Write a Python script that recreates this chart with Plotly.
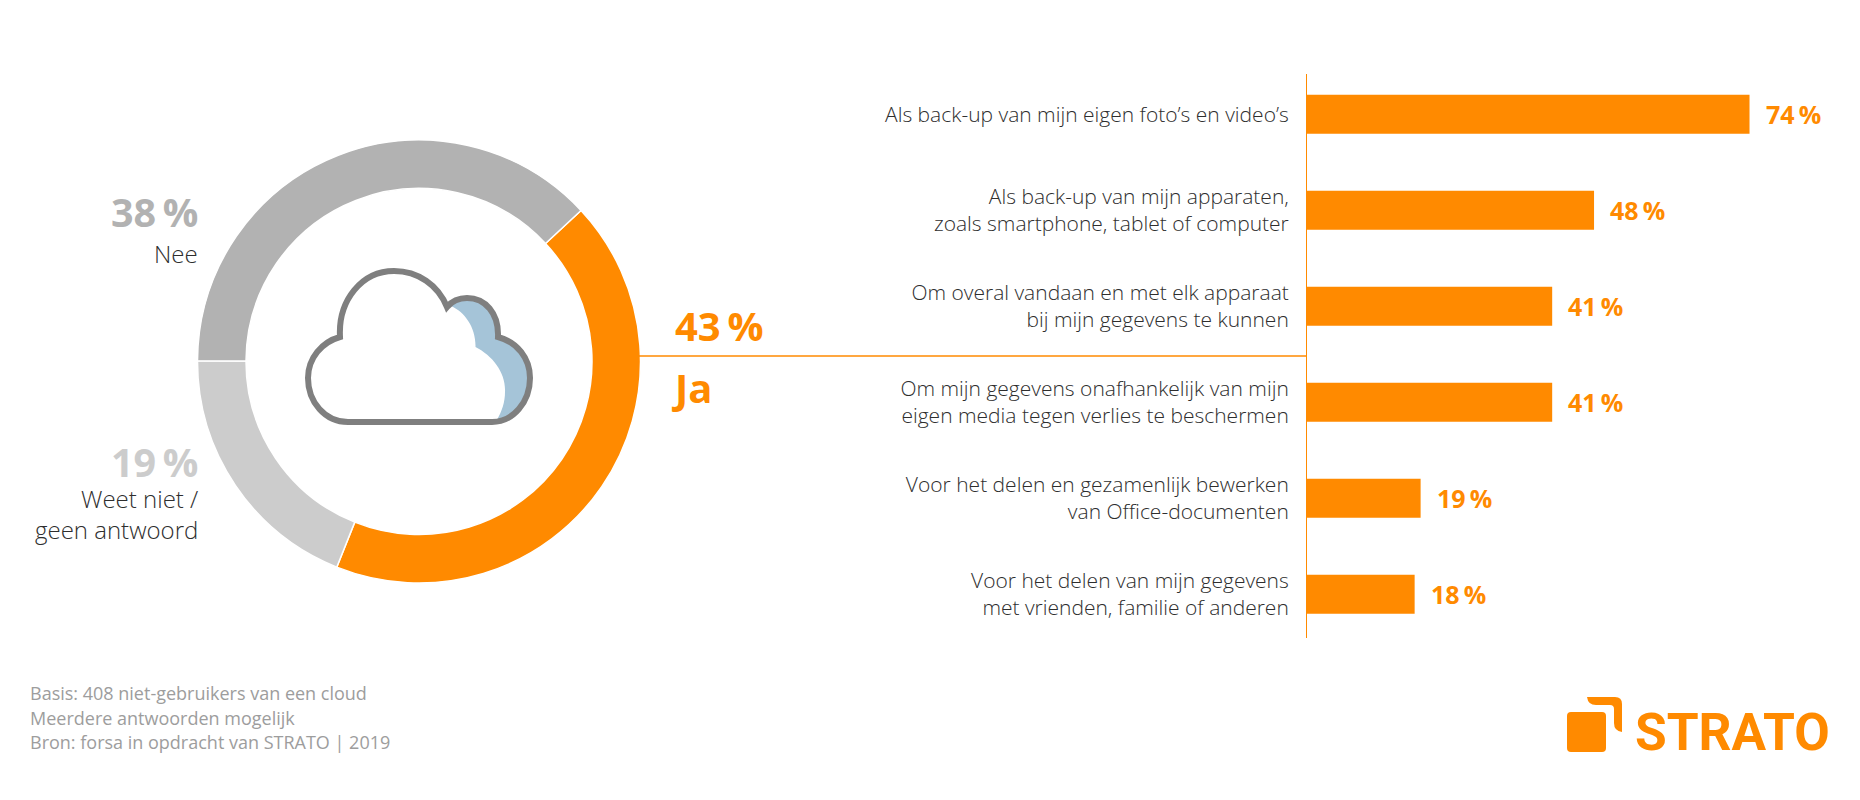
import plotly.graph_objects as go

# region Data
pie_labels = ["Ja", "Weet niet /<br>geen antwoord", "Nee"]
pie_values = [43, 19, 38]

bar_labels = [
    "Als back-up van mijn eigen foto’s en video’s",
    "Als back-up van mijn apparaten,<br>zoals smartphone, tablet of computer",
    "Om overal vandaan en met elk apparaat<br>bij mijn gegevens te kunnen",
    "Om mijn gegevens onafhankelijk van mijn<br>eigen media tegen verlies te beschermen",
    "Voor het delen en gezamenlijk bewerken<br>van Office-documenten",
    "Voor het delen van mijn gegevens<br>met vrienden, familie of anderen",
]
bar_values = [74, 48, 41, 41, 19, 18]

footer_lines = [
    "Basis: 408 niet-gebruikers van een cloud",
    "Meerdere antwoorden mogelijk",
    "Bron: forsa in opdracht van STRATO | 2019",
]
# endregion

ORANGE = "#ff8a00"
GREY_DARK = "#b2b2b2"
GREY_LIGHT = "#cccccc"
TEXT = "#2e2e2e"
FONT = "Open Sans"

# the page body keeps its 8px margin, so the figure is 16px smaller than the window
# and every position below is given in window pixels
W, H = 1860, 800
PAGE = 8
FIG_W, FIG_H = W - 2 * PAGE, H - 2 * PAGE


def px_x(x):
    return (x - PAGE) / FIG_W


def px_y(y):
    return 1 - (y - PAGE) / FIG_H


fig = go.Figure()

# Donut
fig.add_trace(
    go.Pie(
        labels=pie_labels,
        values=pie_values,
        hole=0.781,
        rotation=47,
        sort=False,
        direction="clockwise",
        textinfo="none",
        marker=dict(colors=[ORANGE, GREY_LIGHT, GREY_DARK], line=dict(color="white", width=1.5)),
        domain=dict(x=[px_x(197.5), px_x(640.5)], y=[px_y(583), px_y(140)]),
    )
)

# Bars
fig.add_trace(
    go.Bar(
        x=bar_values,
        y=bar_labels,
        orientation="h",
        marker=dict(color=ORANGE, line=dict(width=0)),
    )
)

fig.update_layout(
    width=FIG_W,
    height=FIG_H,
    margin=dict(l=0, r=0, t=0, b=0),
    paper_bgcolor="white",
    plot_bgcolor="rgba(0,0,0,0)",
    showlegend=False,
    bargap=0.594,
    font=dict(family=FONT, color=TEXT),
    xaxis=dict(
        domain=[px_x(1307), 1],
        range=[0, (W - PAGE - 1307) / 5.98],
        visible=False,
    ),
    yaxis=dict(
        domain=[px_y(638), px_y(73.5)],
        range=[5.456, -0.424],
        type="category",
        categoryorder="array",
        categoryarray=bar_labels,
        showline=True,
        linecolor=ORANGE,
        linewidth=1,
        showgrid=False,
        ticks="",
        ticklabelstandoff=13,
        tickfont=dict(family=FONT, size=21, color=TEXT, weight=300),
    ),
    # pixel canvas for the cloud, logo and free labels
    xaxis2=dict(domain=[0, 1], range=[PAGE, W - PAGE], visible=False, anchor="y2"),
    yaxis2=dict(domain=[0, 1], range=[H - PAGE, PAGE], visible=False, anchor="x2"),
)

# Bar value labels
for label, value in zip(bar_labels, bar_values):
    fig.add_annotation(
        x=value, y=label, xref="x", yref="y",
        text=f"{value}\u2009%", showarrow=False,
        xanchor="left", xshift=14,
        font=dict(family=FONT, size=25, color=ORANGE, weight=700),
    )


def canvas_text(x, y, text, size, color, weight=400, anchor="left", align="left", family=FONT):
    fig.add_annotation(
        x=x, y=y, xref="x2", yref="y2", text=text, showarrow=False,
        xanchor=anchor, yanchor="middle", align=align,
        borderpad=0, borderwidth=0,
        font=dict(family=family, size=size, color=color, weight=weight),
    )


# Donut labels
canvas_text(198, 212, f"{pie_values[2]}\u2009%", 39.5, GREY_DARK, 700, "right", "right")
canvas_text(198, 253, pie_labels[2], 24, TEXT, 300, "right", "right")
canvas_text(198, 462, f"{pie_values[1]}\u2009%", 39.5, GREY_LIGHT, 700, "right", "right")
canvas_text(198, 514, pie_labels[1], 24, TEXT, 300, "right", "right")
canvas_text(674.5, 325, f"{pie_values[0]}\u2009%", 40, ORANGE, 700)
canvas_text(672, 387, pie_labels[0], 40, ORANGE, 700)

# Footer
for line, y in zip(footer_lines, [693, 717.5, 742]):
    canvas_text(30, y, line, 18, "#9d9d9d")

# Logo wordmark
canvas_text(1635, 732, "STRATO", 51.5, ORANGE, 700, family="Roboto")

# Connector from donut to the bar baseline
fig.add_shape(type="line", xref="x2", yref="y2", x0=639, x1=1306, y0=356, y1=356,
              line=dict(color=ORANGE, width=1.5))

# Cloud icon: blue shade, then the outline on top
fig.add_shape(
    type="path", xref="x2", yref="y2", layer="above", line=dict(width=0), fillcolor="#a5c4d8",
    path="M 451 306 C 465 312 476 328 475.5 347 C 493 356 506 373 505 392 C 505 402 502 411 497 420 "
         "L 492 422 C 513 422 530 402 530 378 C 530 358 517 342 498 337 "
         "C 499 313 485 298 467 298 C 459 298 452 301 451 306 Z",
)
fig.add_shape(
    type="path", xref="x2", yref="y2", layer="above", line=dict(color="#7f7f7f", width=6),
    path="M 348 422 C 325 422 308 402 308 378 C 308 358 322 342 340 337 "
         "C 338 300 362 271 394 271 C 418 271 438 285 447 307 "
         "C 452 301 459 298 467 298 C 485 298 499 313 498 337 "
         "C 517 342 530 358 530 378 C 530 402 513 422 492 422 Z",
)

# Logo square and corner
fig.add_shape(
    type="path", xref="x2", yref="y2", line=dict(width=0), fillcolor=ORANGE,
    path="M 1571 712 L 1602 712 Q 1606 712 1606 716 L 1606 748 Q 1606 752 1602 752 "
         "L 1571 752 Q 1567 752 1567 748 L 1567 716 Q 1567 712 1571 712 Z",
)
fig.add_shape(
    type="path", xref="x2", yref="y2", line=dict(width=0), fillcolor=ORANGE,
    path="M 1587 697 L 1615 697 Q 1622 697 1622 704 L 1622 732 "
         "Q 1614 731 1614 723 L 1614 709 Q 1614 705 1610 705 L 1596 705 Q 1588 705 1587 697 Z",
)

fig.write_html("out.html")
